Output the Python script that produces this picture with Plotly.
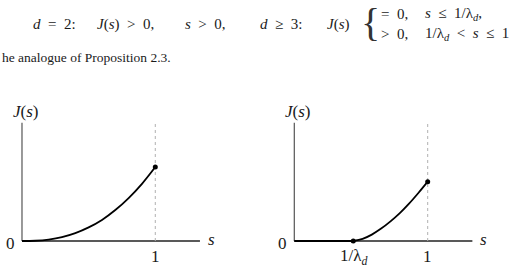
import plotly.graph_objects as go

# ---- data ----
# left panel: d = 2, J(s) > 0 for s > 0
s_left = [0.0, 0.1, 0.2, 0.3, 0.4, 0.5, 0.6, 0.7, 0.8, 0.9, 1.0]
J_left = [0.0, 0.002, 0.011, 0.029, 0.059, 0.102, 0.158, 0.232, 0.322, 0.429, 0.555]
# right panel: d >= 3, J(s) = 0 up to 1/lambda_d, then increasing
inv_lambda = 0.442
s_right = [0.442, 0.512, 0.581, 0.651, 0.721, 0.791, 0.860, 0.930, 1.0]
J_right = [0.0, 0.016, 0.048, 0.093, 0.147, 0.209, 0.280, 0.360, 0.445]
axis_x_end = 1.335
axis_y_top = 0.8875

FONT = "Liberation Serif"
TXT = "#1a1a1a"
W, H = 514, 271
E = "\u2002"  # en space, mimics TeX math spacing

fig = go.Figure()

def panel(xa, ya, xs, ys, flat_to=None):
    fig.add_trace(go.Scatter(x=[0, 0], y=[0, axis_y_top], mode="lines",
                             line=dict(color="#555", width=1.2), xaxis=xa, yaxis=ya,
                             hoverinfo="skip"))
    fig.add_trace(go.Scatter(x=[0, axis_x_end], y=[0, 0], mode="lines",
                             line=dict(color="#222", width=1.3), xaxis=xa, yaxis=ya,
                             hoverinfo="skip"))
    fig.add_trace(go.Scatter(x=[1, 1], y=[0, axis_y_top], mode="lines",
                             line=dict(color="#b0b0b0", width=1, dash="dot"), xaxis=xa, yaxis=ya,
                             hoverinfo="skip"))
    if flat_to is not None:
        fig.add_trace(go.Scatter(x=[0, flat_to], y=[0, 0], mode="lines",
                                 line=dict(color="black", width=1.8), xaxis=xa, yaxis=ya,
                                 hoverinfo="skip"))
    fig.add_trace(go.Scatter(x=xs, y=ys, mode="lines", line=dict(color="black", width=1.8, shape="spline"),
                             xaxis=xa, yaxis=ya, hoverinfo="skip"))
    mx = [xs[-1]] if flat_to is None else [xs[0], xs[-1]]
    my = [ys[-1]] if flat_to is None else [ys[0], ys[-1]]
    fig.add_trace(go.Scatter(x=mx, y=my, mode="markers", marker=dict(color="black", size=5),
                             xaxis=xa, yaxis=ya, hoverinfo="skip"))

panel("x", "y", s_left, J_left)
panel("x2", "y2", s_right, J_right, flat_to=inv_lambda)

ann = []
def lab(text, x, y, xref, yref, size=17, xanchor="center", yanchor="middle", color=TXT):
    ann.append(dict(text=text, x=x, y=y, xref=xref, yref=yref, showarrow=False,
                    xanchor=xanchor, yanchor=yanchor,
                    font=dict(family=FONT, size=size, color=color)))

# panel labels (data coordinates)
for xr, yr, xl0, xlJ, xls in [("x", "y", -0.083, -0.085, 1.418), ("x2", "y2", -0.085, -0.085, 1.42)]:
    lab("<i>J</i>(<i>s</i>)", xlJ, 0.975, xr, yr, xanchor="left")
    lab("0", xl0, -0.022, xr, yr)
    lab("<i>s</i>", xls, 0.008, xr, yr)
    lab("1", 1, -0.118, xr, yr)
lab("1/λ<sub><i>d</i></sub>", inv_lambda, -0.118, "x2", "y2")

# header text (paper coordinates from pixels)
def px(xp, yp, text, size=15, xanchor="left", color=TXT):
    lab(text, xp / W, 1 - yp / H, "paper", "paper", size=size, xanchor=xanchor, color=color)

px(31, 24, f"<i>d</i>{E}={E}2:")
px(95, 24, f"<i>J</i>(<i>s</i>){E}&gt;{E}0,")
px(183, 24, f"<i>s</i>{E}&gt;{E}0,")
px(258, 24, f"<i>d</i>{E}≥{E}3:")
px(325, 24, "<i>J</i>(<i>s</i>)")
px(359, 23, "{", size=40, color="#333")
px(379, 14, f"={E}0,")
px(423, 14, f"<i>s</i>{E}≤{E}1/λ<sub><i>d</i></sub>,")
px(379, 34, f"&gt;{E}0,")
px(423, 34, f"1/λ<sub><i>d</i></sub>{E}&lt;{E}<i>s</i>{E}≤{E}1")
px(0, 57, "he analogue of Proposition 2.3.", size=13.5)

ax_common = dict(visible=False, showgrid=False, zeroline=False, fixedrange=True)
fig.update_layout(
    width=W, height=H, margin=dict(l=0, r=0, t=0, b=0),
    paper_bgcolor="white", plot_bgcolor="white", showlegend=False,
    xaxis=dict(domain=[0, 0.5], range=[-0.165, 1.763], **ax_common),
    xaxis2=dict(domain=[0.5, 1], range=[-0.2796, 1.647], **ax_common),
    yaxis=dict(domain=[0, 1], range=[-0.2251, 1.808], **ax_common),
    yaxis2=dict(domain=[0, 1], range=[-0.2251, 1.808], anchor="x2", **ax_common),
    annotations=ann,
)
fig.write_html("out.html")
